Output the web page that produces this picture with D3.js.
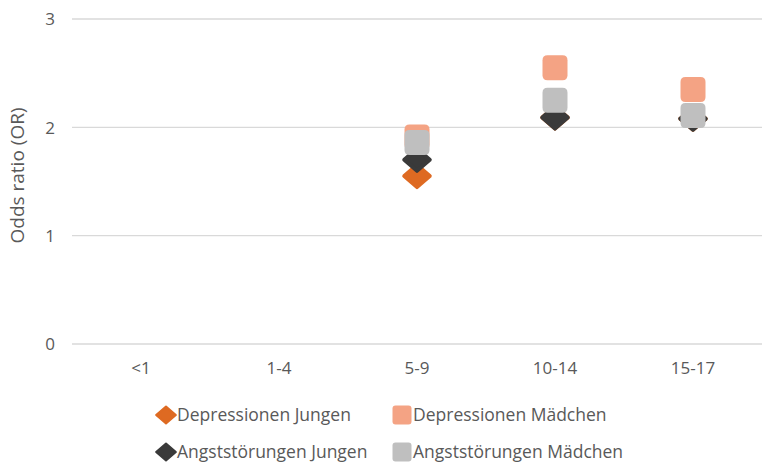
<!DOCTYPE html>
<html><head><meta charset="utf-8">
<script src="https://cdn.jsdelivr.net/npm/d3@7"></script>
<style>body{margin:0;background:#fff}svg{display:block}text{font-family:"Open Sans","Liberation Sans",sans-serif;fill:#595959}</style>
</head><body><svg id="c" width="762" height="464"></svg>
<script>
const categories = ["<1","1-4","5-9","10-14","15-17"];
const depJungen   = [null,null,1.55,2.09,2.08];
const depMaedchen = [null,null,1.91,2.55,2.35];
const angJungen   = [null,null,1.70,2.09,2.08];
const angMaedchen = [null,null,1.86,2.25,2.11];
const yTicks = [0,1,2,3];
const seriesNames = ["Depressionen Jungen","Depressionen Mädchen","Angststörungen Jungen","Angststörungen Mädchen"];

const series = [
  {name:seriesNames[0], values:depJungen, color:"#DE6A22", shape:"diamond"},
  {name:seriesNames[1], values:depMaedchen, color:"#F4A384", shape:"square"},
  {name:seriesNames[2], values:angJungen, color:"#3A3A3A", shape:"diamond"},
  {name:seriesNames[3], values:angMaedchen, color:"#BFBFBF", shape:"square"}
];

const svg = d3.select("#c");
const m = {l:72, r:0};
const W = 762;
const x = d3.scaleBand().domain(categories).range([m.l, W - m.r]);
const y = d3.scaleLinear().domain([0,3]).range([344, 19]);

// gridlines
svg.append("g").selectAll("line").data(yTicks).join("line")
  .attr("x1", m.l).attr("x2", W).attr("y1", d=>y(d)).attr("y2", d=>y(d))
  .attr("stroke", "#D9D9D9").attr("stroke-width", 1.3);

// y axis labels
const yAxis = d3.axisLeft(y).tickValues(yTicks).tickFormat(d3.format("d")).tickSize(0).tickPadding(0);
const yg = svg.append("g").attr("transform", `translate(${m.l - 17},0)`).call(yAxis);
yg.select(".domain").remove();
yg.selectAll("text").attr("font-size", 17).style("fill","#595959").attr("dy","0.35em");

// x axis labels
const xAxis = d3.axisBottom(x).tickSize(0).tickPadding(0);
const xg = svg.append("g").attr("transform", `translate(0,${y(0) + 18})`).call(xAxis);
xg.select(".domain").remove();
xg.selectAll("text").attr("font-size", 17).style("fill","#595959").attr("dy","0.71em");

// y title
svg.append("text").attr("transform", `translate(24,${y(1.5) - 6}) rotate(-90)`)
  .attr("text-anchor","middle").attr("font-size",19).text("Odds ratio (OR)");

function shapePath(shape, s, r) {
  if (shape === "diamond") {
    const w = s*0.58, h = s*0.5;
    return `M0,${-h}L${w},0L0,${h}L${-w},0Z`;
  }
  const h = s/2;
  return `M${-h+r},${-h}H${h-r}Q${h},${-h} ${h},${-h+r}V${h-r}Q${h},${h} ${h-r},${h}H${-h+r}Q${-h},${h} ${-h},${h-r}V${-h+r}Q${-h},${-h} ${-h+r},${-h}Z`;
}

const pts = svg.append("g");
series.forEach(sr => {
  const data = categories.map((c,i)=>({c, v:sr.values[i]})).filter(d=>d.v!=null);
  pts.selectAll(null).data(data).join("path")
    .attr("transform", d=>`translate(${x(d.c)+x.bandwidth()/2},${y(d.v)})`)
    .attr("d", sr.shape==="diamond" ? shapePath("diamond", 22) : shapePath("square", 25, 5))
    .attr("fill", sr.color).attr("stroke", sr.color)
    .attr("stroke-width", sr.shape==="diamond"?4:0).attr("stroke-linejoin","round");
});

// legend
const legPos = [[166,415],[402,415],[166,452],[402,452]];
series.forEach((sr,i)=>{
  const [lx,ly] = legPos[i];
  svg.append("path").attr("transform",`translate(${lx},${ly})`)
    .attr("d", sr.shape==="diamond" ? shapePath("diamond", 17) : shapePath("square", 19, 3))
    .attr("fill", sr.color).attr("stroke", sr.color).attr("stroke-width", sr.shape==="diamond"?2:0).attr("stroke-linejoin","round");
  svg.append("text").attr("x", lx + 11).attr("y", ly).attr("dy","0.35em")
    .attr("font-size",17.5).text(sr.name);
});
</script></body></html>
